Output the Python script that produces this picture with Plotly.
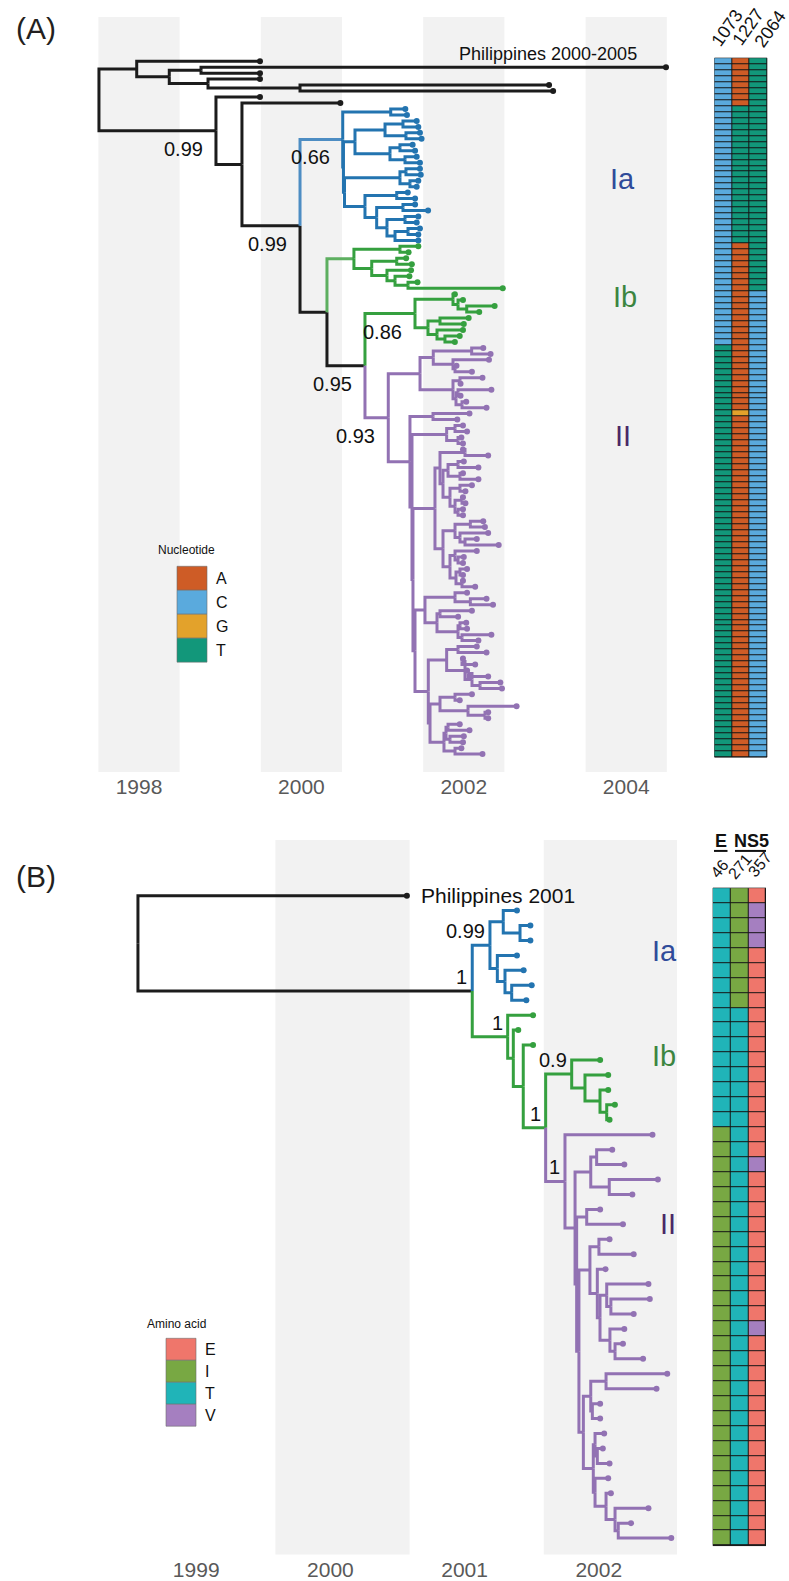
import re
import plotly.graph_objects as go

W, H = 789, 1581
FONT = "Liberation Sans, Arial, Helvetica, sans-serif"

# ======================= PANEL A DATA =======================
# tip dates (decimal years), top to bottom
tip_dates_A = [
    1999.49, 2004.49, 1999.49, 1999.49, 2003.05, 2003.10, 1999.49, 2000.48,
    2001.28, 2001.30, 2001.42, 2001.44, 2001.46, 2001.48, 2001.37, 2001.40,
    2001.42, 2001.46, 2001.46, 2001.47, 2001.44, 2001.42, 2001.31, 2001.40,
    2001.40, 2001.56, 2001.44, 2001.42, 2001.46, 2001.44, 2001.44,
    2001.44, 2001.32, 2001.29, 2001.36, 2001.35, 2001.33, 2001.43, 2002.48,
    2001.89, 2001.99, 2002.38, 2002.19, 2002.06, 2002.00, 2001.99, 2001.95, 2001.89,
    2002.24, 2002.33, 2002.31, 2001.91, 2002.10, 2002.23, 2001.96, 2002.34,
    2001.96, 2002.03, 2002.28, 2002.07, 2001.92, 2001.99, 2002.04, 2001.97,
    2001.99, 2001.99, 2002.30, 2002.00, 2002.18, 2001.99, 2002.18, 2002.10,
    2002.02, 2001.99, 2002.02, 2001.99, 2001.99, 2002.24, 2002.26, 2002.30,
    2002.16, 2002.43, 2002.16, 2002.00, 2001.99, 2002.04, 2001.99, 2001.99,
    2002.14, 2002.04, 2002.28, 2002.36, 2002.10, 2001.93, 2002.03, 2002.04,
    2002.34, 2002.18, 2002.16, 2002.28, 2001.99, 2002.14, 2002.04, 2002.30,
    2002.45, 2002.47, 2002.10, 2001.95, 2002.65, 2002.30, 2002.30, 2001.95,
    2002.07, 2002.00, 2001.99, 2001.97, 2002.23,
]
tip_clade_runs_A = [("k", 8), ("a", 23), ("b", 17), ("c", 69)]

# topology: tips are row indices, ")date|c=colour|s=support" for internal nodes
A_Ia = ("((8,9)2001.100,((((10,11)2001.251,(12,13)2001.288)2001.030,((14,15)2001.214,(16,17)2001.276)2001.091)2000.660,"
        "(((18,19)2001.288,(20,21)2001.337)2001.214,((22,23)2001.174,((24,25)2001.251,((26,27)2001.276,((28,29)2001.313,30)2001.153)2001.054)2000.927)2000.783)2000.531)2000.518)2000.509|c=A|s=0.66")
A_Ib1 = "((31,32)2001.214,((33,34)2001.174,(35,(36,(37,38)2001.313)2001.153)2001.054)2000.866)2000.647|c=B"
A_Ib2 = "((39,(40,(41,42)2002.036)2001.929)2001.867,((43,44)2001.707,(45,(46,47)2001.768)2001.670)2001.559)2001.399|s=0.86"
A_IIu = "(((48,49)2002.097,(50,(51,52)2001.892)2001.867)2001.624,((53,54)2001.953,((55,56)2001.929,(57,58)2001.978)2001.904)2001.867)2001.461"
A_G1 = "(59,60)2001.621"
A_G2 = "((61,62)2001.892,(63,64)2001.929)2001.789"
A_G3a = "((65,66)2002.015,(((67,68)2001.929,(69,70)2001.953)2001.806,((71,72)2001.953,((73,74)2001.978,(75,76)2001.929)2001.892)2001.830)2001.744)2001.707"
A_G3b = "(((77,78)2002.081,(79,(80,81)2002.015)2001.953)2001.892,((82,(83,84)2001.929)2001.892,((85,86)2001.953,(87,88)2001.978)2001.904)2001.830)2001.744"
A_G4 = "((89,(90,91)2002.081)2001.892,((92,93)2001.707,((94,95)2001.953,(96,97)2001.978)2001.929)2001.670)2001.522"
A_G5a = "((98,99)2001.929,((100,101)2001.978,((102,103)2002.052,(104,105)2002.200)2002.101)2002.015)2001.789"
A_G5b = "(((106,107)2001.892,(108,(109,110)2002.261)2002.052)2001.707,(((111,112)2001.806,(113,114)2001.830)2001.781,(115,116)2001.892)2001.756)2001.584"
A_IIv = ("(" + A_G1 + ",(" + A_G2 + ",((" + A_G3a + "," + A_G3b + ")2001.645,(" + A_G4 + ",(" + A_G5a + "," + A_G5b +
         ")2001.563)2001.399)2001.374)2001.362)2001.337")
A_IIa = "(" + A_IIu + "," + A_IIv + ")2001.070|s=0.93"
A_Q = "(" + A_Ib1 + ",(" + A_Ib2 + "," + A_IIa + ")2000.783|s=0.95)2000.315"
tree_A = ("((0,((1,2)1998.764,(3,(4,5)1999.983)1998.850)1998.373)1997.972,"
          "(6,(7,(" + A_Ia + "," + A_Q + ")1999.983|s=0.99)1999.268)1998.948|s=0.99)1997.507")

years_A = [1998, 2000, 2002, 2004]
bands_A = [(1997.5, 1998.5), (1999.5, 2000.5), (2001.5, 2002.5), (2003.5, 2004.5)]

site_names_A = ["1073", "1227", "2064"]
site_runs_A = [
    [("C", 48), ("T", 69)],
    [("A", 8), ("T", 23), ("A", 28), ("G", 1), ("A", 57)],
    [("T", 39), ("C", 78)],
]
nucleotides = ["A", "C", "G", "T"]
nuc_colors = ["#CE5C26", "#5AAADD", "#E3A22B", "#12977A"]

# ======================= PANEL B DATA =======================
tip_dates_B = [
    2000.57, 2001.39, 2001.49, 2001.49, 2001.39, 2001.44, 2001.50, 2001.46,
    2001.51, 2001.40, 2001.51, 2002.01, 2002.07, 2002.07, 2002.12, 2002.08,
    2002.40, 2002.10, 2002.19, 2002.44, 2002.25, 2002.01, 2002.18, 2002.08,
    2002.26, 2002.05, 2002.37, 2002.38, 2002.26, 2002.19, 2002.18, 2002.33,
    2002.51, 2002.43, 2002.01, 2002.01, 2002.04, 2002.03, 2002.08, 2002.07,
    2002.09, 2002.37, 2002.24, 2002.54,
]
tip_clade_runs_B = [("k", 1), ("a", 7), ("b", 8), ("c", 28)]

B_Ia = "((1,(2,3)2001.413)2001.288,(4,(5,(6,7)2001.351)2001.301)2001.244)2001.189|s=0.99"
B_Ibs = "(11,(12,(13,(14,15)2002.059)2002.009)2001.897)2001.798|s=0.9"
B_IIB = "((17,18)2001.984,(19,20)2002.078)2001.940"
B_C3 = "((23,24)2002.001,(25,((26,(27,28)2002.090)2002.059,(29,(30,31)2002.121)2002.083)2002.009)2001.989)2001.934"
B_C4 = ("(((32,33)2002.054,(34,35)2001.952)2001.940,((36,(37,38)2001.989)2001.972,"
        "(39,(40,(41,(42,43)2002.145)2002.121)2002.054)2001.972)2001.959)2001.885")
B_IIC = "((21,22)2001.910,(" + B_C3 + "," + B_C4 + ")2001.852)2001.835"
B_II = "(16,(" + B_IIB + "," + B_IIC + ")2001.823)2001.748|s=1"
B_N3 = "(" + B_Ibs + "," + B_II + ")2001.604|c=b|s=1"
tree_B = ("(0,(" + B_Ia + ",(8,(9,(10," + B_N3 + ")2001.437|c=b)2001.363|c=b)2001.321|c=b|s=1)2001.057|s=1)1998.566")

years_B = [1999, 2000, 2001, 2002]
bands_B = [(1999.59, 2000.59), (2001.59, 2002.59)]

site_groups_B = ["E", "NS5"]
site_names_B = ["46", "271", "357"]
site_runs_B = [
    [("T", 16), ("I", 28)],
    [("I", 8), ("T", 36)],
    [("E", 1), ("V", 3), ("E", 14), ("V", 1), ("E", 10), ("V", 1), ("E", 14)],
]
amino_acids = ["E", "I", "T", "V"]
aa_colors = ["#EF766B", "#78A843", "#20B4B8", "#A57FC0"]

# clade labels
clade_names = ["Ia", "Ib", "II"]
clade_text_colors = ["#2F4B9A", "#3C8540", "#4A2866"]

# ======================= STYLE =======================
LINE_COL = {"k": "#1c1c1c", "a": "#2374B0", "A": "#4D8DC3", "b": "#35A03F", "B": "#5DAF60", "c": "#9272B3"}
TIP_COL = {"k": "#1c1c1c", "a": "#2374B0", "b": "#35A03F", "c": "#9272B3"}


def expand(runs):
    out = []
    for v, n in runs:
        out.extend([v] * n)
    return out


def parse_tree(s, tip_dates):
    s = s.replace(" ", "")
    pos = 0

    def node():
        nonlocal pos
        if s[pos] == "(":
            pos += 1
            kids = [node()]
            while s[pos] == ",":
                pos += 1
                kids.append(node())
            assert s[pos] == ")"
            pos += 1
            tok = re.match(r"[^,()]*", s[pos:]).group(0)
            pos += len(tok)
            parts = tok.split("|")
            nd = {"kids": kids, "date": float(parts[0]), "col": None, "sup": None}
            for p in parts[1:]:
                k, v = p.split("=")
                if k == "c":
                    nd["col"] = v
                else:
                    nd["sup"] = v
            return nd
        tok = re.match(r"\d+", s[pos:]).group(0)
        pos += len(tok)
        i = int(tok)
        return {"kids": [], "tip": i, "date": tip_dates[i], "col": None, "sup": None}

    return node()


def lay(nd, clades):
    if not nd["kids"]:
        nd["y"] = nd["tip"]
        nd["cl"] = {clades[nd["tip"]]}
    else:
        for k in nd["kids"]:
            lay(k, clades)
        nd["y"] = sum(k["y"] for k in nd["kids"]) / len(nd["kids"])
        nd["cl"] = set().union(*[k["cl"] for k in nd["kids"]])
    if nd["col"] is None:
        nd["col"] = next(iter(nd["cl"])) if len(nd["cl"]) == 1 else "k"


def collect(nd, segs, tips, sups):
    for k in nd["kids"]:
        xs, ys = segs.setdefault(k["col"], ([], []))
        xs += [nd["date"], nd["date"], k["date"], None]
        ys += [nd["y"], k["y"], k["y"], None]
        collect(k, segs, tips, sups)
    if not nd["kids"]:
        tips.append(nd)
    if nd["sup"]:
        sups.append(nd)


fig = go.Figure()
shapes = []
annotations = []


def P(x, y):
    return x / W, 1 - y / H


def ann_px(text, x, y, size, color="#000000", **kw):
    px, py = P(x, y)
    d = dict(text=text, x=px, y=py, xref="paper", yref="paper", showarrow=False,
             xanchor="center", yanchor="middle",
             font=dict(size=size, color=color, family=FONT))
    d.update(kw)
    annotations.append(d)


def draw_tree(tree_str, tip_dates, clade_runs, xa, ya, sup_below):
    clades = expand(clade_runs)
    root = parse_tree(tree_str, tip_dates)
    lay(root, clades)
    segs, tips, sups = {}, [], []
    collect(root, segs, tips, sups)
    for c in ["k", "A", "B", "a", "b", "c"]:
        if c in segs:
            xs, ys = segs[c]
            fig.add_trace(go.Scatter(x=xs, y=ys, mode="lines", xaxis=xa, yaxis=ya,
                                     line=dict(color=LINE_COL[c], width=3),
                                     hoverinfo="skip", showlegend=False))
    fig.add_trace(go.Scatter(x=[t["date"] for t in tips], y=[t["y"] for t in tips], mode="markers",
                             xaxis=xa, yaxis=ya, hoverinfo="skip", showlegend=False,
                             marker=dict(size=6, color=[TIP_COL[clades[t["tip"]]] for t in tips])))
    for nd in sups:
        d = dict(text=nd["sup"], x=nd["date"], y=nd["y"], xref=xa, yref=ya, showarrow=False,
                 font=dict(size=20, color="#111111", family=FONT), xanchor="right")
        if sup_below:
            d.update(yanchor="top", xshift=-11, yshift=-5)
        else:
            d.update(yanchor="bottom", xshift=-3, yshift=1)
        annotations.append(d)
    return root


def draw_heat(site_runs, cats, colors, xa, ya):
    cols = [expand(r) for r in site_runs]
    n = len(cols[0])
    z = [[cats.index(cols[j][i]) for j in range(len(cols))] for i in range(n)]
    k = len(cats)
    cs = []
    for i, c in enumerate(colors):
        cs += [[i / k, c], [(i + 1) / k, c]]
    fig.add_trace(go.Heatmap(z=z, x=list(range(len(cols))), y=list(range(n)), xaxis=xa, yaxis=ya,
                             colorscale=cs, zmin=-0.5, zmax=k - 0.5, showscale=False,
                             xgap=1, ygap=1, hoverinfo="skip"))
    shapes.append(dict(type="rect", xref=xa, yref=ya, x0=-0.5, x1=len(cols) - 0.5, y0=-0.5, y1=n - 0.5,
                       fillcolor="#151515", line=dict(color="#151515", width=1), layer="below"))


# ---------- Panel A ----------
draw_tree(tree_A, tip_dates_A, tip_clade_runs_A, "x", "y", True)
draw_heat(site_runs_A, nucleotides, nuc_colors, "x2", "y")
for a, b in bands_A:
    shapes.append(dict(type="rect", xref="x", yref="y domain", x0=a, x1=b, y0=0, y1=1,
                       fillcolor="#F2F2F2", line=dict(width=0), layer="below"))
annotations.append(dict(text="Philippines 2000-2005", x=tip_dates_A[1], y=1, xref="x", yref="y",
                        showarrow=False, xanchor="right", yanchor="middle", xshift=-27, yshift=13,
                        font=dict(size=18, color="#111111", family=FONT)))

# ---------- Panel B ----------
draw_tree(tree_B, tip_dates_B, tip_clade_runs_B, "x3", "y2", False)
draw_heat(site_runs_B, amino_acids, aa_colors, "x4", "y2")
for a, b in bands_B:
    shapes.append(dict(type="rect", xref="x3", yref="y2 domain", x0=a, x1=b, y0=0, y1=1,
                       fillcolor="#F2F2F2", line=dict(width=0), layer="below"))
annotations.append(dict(text="Philippines 2001", x=tip_dates_B[0], y=0, xref="x3", yref="y2",
                        showarrow=False, xanchor="left", yanchor="middle", xshift=12, yshift=0,
                        font=dict(size=21, color="#111111", family=FONT)))

# ---------- panel letters ----------
ann_px("(A)", 36, 29, 30, "#231F20")
ann_px("(B)", 36, 878, 30, "#231F20")

# ---------- clade labels ----------
for name, col, (x, y) in zip(clade_names, clade_text_colors, [(622, 179), (625, 297), (623, 437)]):
    ann_px(name, x, y, 29, col)
for name, col, (x, y) in zip(clade_names, clade_text_colors, [(664, 952), (664, 1057), (668, 1226)]):
    ann_px(name, x, y, 29, col)

# ---------- heatmap headers ----------
for name, (x, y) in zip(site_names_A, [(727, 28), (748, 27), (770, 29)]):
    ann_px(name, x, y, 18, "#111111", textangle=-55)
for name, (x, y) in zip(site_names_B, [(720, 870), (740, 868), (760, 866)]):
    ann_px(name, x, y, 16, "#111111", textangle=-50)
ann_px("<b>E</b>", 720.7, 842, 18, "#111111")
ann_px("<b>NS5</b>", 751, 842, 18, "#111111")
for x0, x1 in [(714, 727.5), (735, 766)]:
    shapes.append(dict(type="line", xref="paper", yref="paper", x0=x0 / W, x1=x1 / W,
                       y0=1 - 852 / H, y1=1 - 852 / H, line=dict(color="#111111", width=2)))

# ---------- legends ----------
def legend(title, labels, colors, x0, y_title, y_top, step, box_w):
    ann_px(title, x0 - 21, y_title, 12, "#111111", xanchor="left")
    for i, (lab, col) in enumerate(zip(labels, colors)):
        yt = y_top + i * step
        shapes.append(dict(type="rect", xref="paper", yref="paper", x0=x0 / W, x1=(x0 + box_w) / W,
                           y0=1 - (yt + step) / H, y1=1 - yt / H, fillcolor=col,
                           line=dict(color="#6b6b6b", width=0.6)))
        ann_px(lab, x0 + box_w + 7, yt + step / 2, 16, "#111111", xanchor="left")


legend("Nucleotide", nucleotides, nuc_colors, 177, 551, 567, 24, 30)
legend("Amino acid", amino_acids, aa_colors, 166, 1326, 1340, 22, 30)

# ---------- axes ----------
tickfont = dict(size=21, color="#595959", family=FONT)
common_x = dict(showgrid=False, zeroline=False, showline=False, ticks="", tickfont=tickfont, fixedrange=True)
hidden = dict(visible=False, showgrid=False, zeroline=False, fixedrange=True)

fig.update_layout(
    width=W, height=H, margin=dict(l=0, r=0, t=0, b=0),
    paper_bgcolor="white", plot_bgcolor="white", showlegend=False,
    xaxis=dict(domain=[90 / W, 680 / W], range=[1997.3966, 2004.6626], anchor="y",
               tickvals=years_A, ticktext=[str(v) for v in years_A], **common_x),
    yaxis=dict(domain=[1 - 773 / H, 1 - 17 / H], range=[119.0, -7.40], anchor="x", **hidden),
    xaxis2=dict(domain=[714.3 / W, 767.3 / W], range=[-0.5, 2.5], anchor="y", **hidden),
    xaxis3=dict(domain=[100 / W, 677 / W], range=[1998.2832, 2002.5827], anchor="y2",
                tickvals=years_B, ticktext=[str(v) for v in years_B], **common_x),
    yaxis2=dict(domain=[1 - 1556.5 / H, 1 - 841 / H], range=[44.10, -3.729], anchor="x3", **hidden),
    xaxis4=dict(domain=[712.7 / W, 766 / W], range=[-0.5, 2.5], anchor="y2", **hidden),
    shapes=shapes, annotations=annotations,
)

fig.write_html("out.html")
